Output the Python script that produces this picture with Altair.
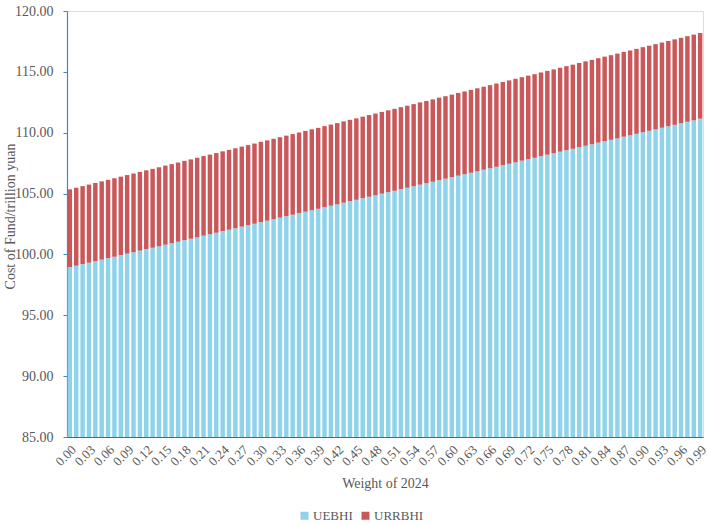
import altair as alt
import pandas as pd

# Weight of 2024 (0.00 ... 0.99)
weights = [f"{i / 100:.2f}" for i in range(100)]

# Cost of fund, trillion yuan
uebhi = [
    98.95, 99.07, 99.20, 99.32, 99.44, 99.57, 99.69, 99.81, 99.94, 100.06,
    100.18, 100.31, 100.43, 100.55, 100.67, 100.80, 100.92, 101.04, 101.17, 101.29,
    101.41, 101.54, 101.66, 101.78, 101.91, 102.03, 102.15, 102.28, 102.40, 102.52,
    102.65, 102.77, 102.89, 103.02, 103.14, 103.26, 103.39, 103.51, 103.63, 103.75,
    103.88, 104.00, 104.12, 104.25, 104.37, 104.49, 104.62, 104.74, 104.86, 104.99,
    105.11, 105.23, 105.36, 105.48, 105.60, 105.73, 105.85, 105.97, 106.10, 106.22,
    106.34, 106.47, 106.59, 106.71, 106.83, 106.96, 107.08, 107.20, 107.33, 107.45,
    107.57, 107.70, 107.82, 107.94, 108.07, 108.19, 108.31, 108.44, 108.56, 108.68,
    108.81, 108.93, 109.05, 109.18, 109.30, 109.42, 109.54, 109.67, 109.79, 109.91,
    110.04, 110.16, 110.28, 110.41, 110.53, 110.65, 110.78, 110.90, 111.02, 111.15,
]
urrbhi = [
    6.40, 6.41, 6.41, 6.42, 6.43, 6.43, 6.44, 6.45, 6.45, 6.46,
    6.47, 6.47, 6.48, 6.48, 6.49, 6.50, 6.50, 6.51, 6.52, 6.52,
    6.53, 6.54, 6.54, 6.55, 6.56, 6.56, 6.57, 6.58, 6.58, 6.59,
    6.60, 6.60, 6.61, 6.61, 6.62, 6.63, 6.63, 6.64, 6.65, 6.65,
    6.66, 6.67, 6.67, 6.68, 6.69, 6.69, 6.70, 6.71, 6.71, 6.72,
    6.73, 6.73, 6.74, 6.74, 6.75, 6.76, 6.76, 6.77, 6.78, 6.78,
    6.79, 6.80, 6.80, 6.81, 6.82, 6.82, 6.83, 6.84, 6.84, 6.85,
    6.86, 6.86, 6.87, 6.87, 6.88, 6.89, 6.89, 6.90, 6.91, 6.91,
    6.92, 6.93, 6.93, 6.94, 6.95, 6.95, 6.96, 6.97, 6.97, 6.98,
    6.99, 6.99, 7.00, 7.00, 7.01, 7.02, 7.02, 7.03, 7.04, 7.04,
]

series = ["UEBHI", "URRBHI"]
colors = ["#8ED3EA", "#C9585B"]
tick_labels = weights[::3]

rows = []
for w, a, b in zip(weights, uebhi, urrbhi):
    rows.append({"weight": w, "series": "UEBHI", "order": 0, "value": a})
    rows.append({"weight": w, "series": "URRBHI", "order": 1, "value": b})
df = pd.DataFrame(rows)

FONT = "Liberation Serif"
TEXT = "#595959"

chart = (
    alt.Chart(df)
    .mark_bar()
    .encode(
        x=alt.X(
            "weight:O",
            sort=weights,
            scale=alt.Scale(paddingInner=0.3, paddingOuter=0.1),
            axis=alt.Axis(
                title="Weight of 2024",
                values=tick_labels,
                labelAngle=-45,
                ticks=False,
                domainColor="#3F6E8C",
                domainWidth=1.2,
                labelFont=FONT,
                labelFontSize=13,
                labelColor=TEXT,
                labelPadding=6,
                titleFont=FONT,
                titleFontSize=14,
                titleFontWeight="normal",
                titleColor=TEXT,
                titlePadding=8,
            ),
        ),
        y=alt.Y(
            "value:Q",
            stack="zero",
            scale=alt.Scale(domain=[85, 120], clamp=True, zero=False),
            axis=alt.Axis(
                title="Cost of Fund/trillion yuan",
                values=[85, 90, 95, 100, 105, 110, 115, 120],
                format=".2f",
                grid=False,
                domainColor="#3C8DBF",
                domainWidth=1.2,
                tickColor="#3C8DBF",
                tickSize=4,
                labelFont=FONT,
                labelFontSize=14,
                labelColor=TEXT,
                labelPadding=10,
                titleFont=FONT,
                titleFontSize=14,
                titleFontWeight="normal",
                titleColor=TEXT,
                titleX=-50,
                titleY=205,
                titleAlign="center",
            ),
        ),
        color=alt.Color(
            "series:N",
            scale=alt.Scale(domain=series, range=colors),
            legend=alt.Legend(
                title=None,
                orient="none",
                direction="horizontal",
                legendX=231,
                legendY=498,
                symbolType="square",
                symbolSize=64,
                symbolStrokeWidth=0,
                labelFont=FONT,
                labelFontSize=13,
                labelColor=TEXT,
                columnPadding=6,
                labelOffset=2,
            ),
        ),
        order=alt.Order("order:Q"),
    )
    .properties(
        width=636,
        height=426,
        autosize=alt.AutoSizeParams(type="none"),
        padding={"left": 67, "top": 11, "right": 5, "bottom": 88},
    )
    .configure_view(strokeWidth=0, stroke="transparent")
    .configure(background="white")
)

chart.save("out.html", embed_options={"renderer": "svg", "actions": False})
